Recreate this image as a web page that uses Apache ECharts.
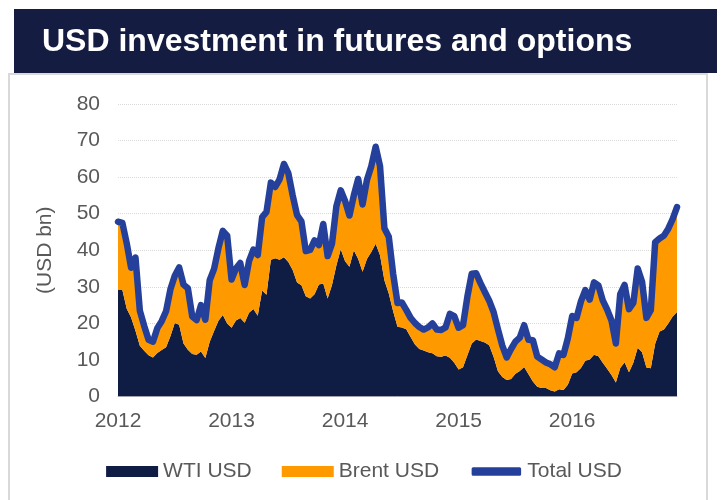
<!DOCTYPE html>
<html>
<head>
    <meta charset="utf-8">
    <script src="https://cdn.jsdelivr.net/npm/echarts@6/dist/echarts.min.js"></script>
    <style>
        html, body { margin: 0; padding: 0; background: #fff; }
    </style>
</head>
<body>
<div id="chart" style="width: 728px; height: 500px;"></div>
<script type="text/javascript">
    // Data, fortnightly points (USD bn)
    var startDate = '2012-01-06';
    var stepDays = 14;

    var wti = [
        29.1, 29.1, 24.0, 21.6, 18.0, 13.9, 12.5, 11.3, 10.7, 11.9,
        12.7, 13.5, 16.5, 20.1, 19.6, 14.5, 12.8, 11.6, 11.4, 12.3,
        10.5, 15.0, 17.9, 20.7, 22.3, 20.0, 18.8, 20.8, 21.5, 20.2,
        22.9, 23.9, 22.1, 29.0, 27.8, 37.4, 37.8, 37.4, 38.1, 36.8,
        34.6, 31.2, 30.4, 27.4, 26.8, 28.0, 30.6, 30.9, 26.8, 30.5,
        35.8, 40.3, 37.0, 35.5, 40.0, 37.6, 34.1, 37.6, 39.5, 41.8,
        38.6, 31.8, 28.2, 23.3, 19.1, 18.9, 18.4, 16.3, 14.2, 13.0,
        12.6, 12.1, 11.8, 11.0, 10.9, 11.2, 10.6, 9.2, 7.4, 8.0,
        11.3, 14.5, 15.6, 15.2, 14.8, 14.0, 10.9, 6.9, 5.3, 4.5,
        4.8, 6.2, 7.0, 8.1, 6.1, 4.1, 2.7, 2.3, 2.3, 1.7,
        1.4, 2.0, 1.8, 3.2, 6.3, 6.6, 7.8, 9.8, 10.1, 11.4,
        11.0, 9.2, 7.6, 5.9, 3.8, 7.8, 9.4, 6.6, 9.2, 13.3,
        12.1, 7.9, 7.7, 14.4, 17.8, 18.3, 20.0, 21.9, 23.1
    ];

    var brent = [
        18.7, 18.4, 17.9, 13.6, 20.0, 9.6, 6.8, 4.2, 4.3, 6.8,
        7.9, 9.8, 12.8, 12.9, 15.7, 16.1, 16.8, 10.3, 9.5, 12.7,
        10.5, 16.8, 17.0, 19.9, 23.0, 24.0, 13.2, 14.2, 15.0, 10.3,
        14.1, 16.3, 16.6, 20.0, 22.7, 21.1, 19.5, 22.0, 25.5, 24.3,
        20.4, 18.4, 17.5, 12.4, 13.3, 14.7, 10.8, 16.3, 11.6, 11.3,
        16.2, 16.1, 16.5, 14.0, 15.0, 21.9, 18.4, 21.6, 23.5, 26.5,
        24.4, 14.2, 15.5, 10.3, 6.5, 6.8, 5.3, 5.2, 5.9, 6.0,
        5.7, 6.8, 8.2, 7.3, 7.3, 7.7, 12.0, 12.8, 11.4, 11.5,
        16.0, 19.1, 18.1, 15.8, 13.8, 12.2, 12.2, 11.5, 8.6, 6.2,
        8.2, 8.8, 9.1, 11.4, 9.4, 11.3, 8.2, 7.8, 7.0, 7.1,
        6.6, 9.8, 9.6, 12.7, 15.7, 14.9, 18.2, 19.3, 16.4, 19.8,
        19.4, 17.1, 16.2, 14.9, 10.7, 20.2, 21.1, 17.3, 16.4, 21.7,
        19.3, 13.6, 15.9, 27.8, 25.4, 25.7, 25.9, 26.6, 28.7
    ];

    var total = [
        47.8, 47.5, 41.9, 35.2, 38.0, 23.5, 19.3, 15.5, 15.0, 18.7,
        20.6, 23.3, 29.3, 33.0, 35.3, 30.6, 29.6, 21.9, 20.9, 25.0,
        21.0, 31.8, 34.9, 40.6, 45.3, 44.0, 32.0, 35.0, 36.5, 30.5,
        37.0, 40.2, 38.7, 49.0, 50.5, 58.5, 57.3, 59.4, 63.6, 61.1,
        55.0, 49.6, 47.9, 39.8, 40.1, 42.7, 41.4, 47.2, 38.4, 41.8,
        52.0, 56.4, 53.5, 49.5, 55.0, 59.5, 52.5, 59.2, 63.0, 68.3,
        63.0, 46.0, 43.7, 33.6, 25.6, 25.7, 23.7, 21.5, 20.1, 19.0,
        18.3, 18.9, 20.0, 18.3, 18.2, 18.9, 22.6, 22.0, 18.8, 19.5,
        27.3, 33.6, 33.7, 31.0, 28.6, 26.2, 23.1, 18.4, 13.9, 10.7,
        13.0, 15.0, 16.1, 19.5, 15.5, 15.4, 10.9, 10.1, 9.3, 8.8,
        8.0, 11.8, 11.4, 15.9, 22.0, 21.5, 26.0, 29.1, 26.5, 31.2,
        30.4, 26.3, 23.8, 20.8, 14.5, 28.0, 30.5, 23.9, 25.6, 35.0,
        31.4, 21.5, 23.6, 42.2, 43.2, 44.0, 45.9, 48.5, 51.8
    ];

    // Category dates, one per data point
    var t0 = new Date(startDate + 'T00:00:00Z').getTime();
    var dates = wti.map(function (_, i) {
        return new Date(t0 + i * stepDays * 86400000).toISOString().slice(0, 10);
    });

    var textColor = '#595959';
    var font = 'Liberation Sans, Arial, sans-serif';

    var chart = echarts.init(document.getElementById('chart'));
    var option = {
        backgroundColor: '#ffffff',
        animation: false,
        textStyle: { fontFamily: font },
        graphic: [
            {
                type: 'rect',
                shape: { x: 9, y: 74, width: 698, height: 440 },
                style: { fill: '#ffffff', stroke: '#d9d9d9', lineWidth: 2 },
                z: -10
            },
            {
                type: 'rect',
                shape: { x: 14, y: 9, width: 703, height: 64 },
                style: { fill: '#141c42' },
                z: -5
            },
            {
                type: 'text',
                left: 42,
                top: 26,
                style: {
                    text: 'USD investment in futures and options',
                    fill: '#ffffff',
                    font: 'bold 32px ' + font
                }
            }
        ],
        grid: { left: 118, right: 51, top: 104, bottom: 103.5 },
        legend: {
            bottom: 13,
            left: 'center',
            itemWidth: 52,
            itemHeight: 11,
            itemGap: 30,
            textStyle: { color: textColor, fontSize: 21, fontFamily: font },
            data: [
                { name: 'WTI USD', icon: 'rect' },
                { name: 'Brent USD', icon: 'rect' },
                {
                    name: 'Total USD',
                    icon: 'roundRect',
                    itemStyle: { color: '#24409a', borderColor: '#ffffff', borderWidth: 2.5 }
                }
            ]
        },
        xAxis: {
            type: 'category',
            data: dates,
            boundaryGap: false,
            axisLine: { lineStyle: { color: '#d0d0d0', width: 1 } },
            axisTick: { show: false },
            axisLabel: {
                color: textColor,
                fontSize: 21,
                margin: 14,
                interval: function (idx, val) {
                    return idx === 0 || dates[idx - 1].slice(0, 4) !== val.slice(0, 4);
                },
                formatter: function (val) { return val.slice(0, 4); }
            },
            splitLine: { show: false }
        },
        yAxis: {
            type: 'value',
            min: 0,
            max: 80,
            interval: 10,
            name: '(USD bn)',
            nameLocation: 'middle',
            nameGap: 62,
            nameTextStyle: { color: textColor, fontSize: 21 },
            axisLine: { show: false },
            axisTick: { show: false },
            axisLabel: { color: textColor, fontSize: 21, margin: 18 },
            splitLine: { lineStyle: { color: '#d9d9d9', type: 'dotted', width: 1 } }
        },
        series: [
            {
                name: 'WTI USD',
                type: 'line',
                stack: 'usd',
                data: wti,
                symbol: 'none',
                lineStyle: { width: 0 },
                areaStyle: { color: '#0f1d45', opacity: 1 },
                itemStyle: { color: '#0f1d45' }
            },
            {
                name: 'Brent USD',
                type: 'line',
                stack: 'usd',
                data: brent,
                symbol: 'none',
                lineStyle: { width: 0 },
                areaStyle: { color: '#ff9900', opacity: 1 },
                itemStyle: { color: '#ff9900' }
            },
            {
                name: 'Total USD',
                type: 'line',
                data: total,
                symbol: 'none',
                lineStyle: { color: '#24409a', width: 6.5, join: 'round', cap: 'round' },
                itemStyle: { color: '#24409a' },
                z: 5
            }
        ]
    };
    chart.setOption(option);
</script>
</body>
</html>
